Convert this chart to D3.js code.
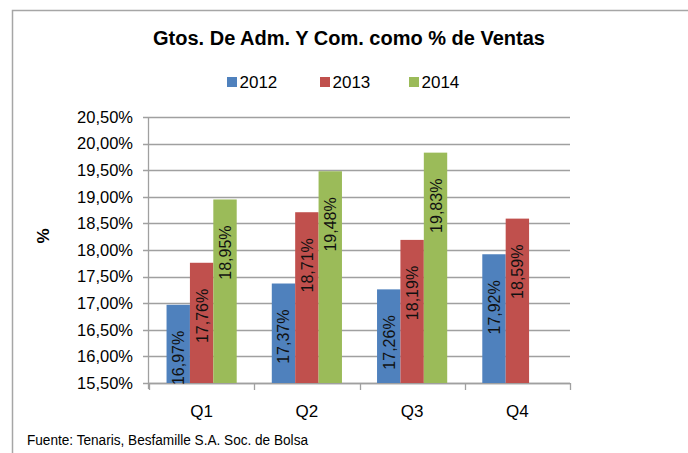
<!DOCTYPE html>
<html><head><meta charset="utf-8">
<script src="https://cdn.jsdelivr.net/npm/d3@7"></script>
<style>
html,body{margin:0;padding:0;background:#fff;}
svg{display:block;}
text{font-family:Arial,"Liberation Sans",sans-serif;}
</style></head>
<body>
<svg id="chart" width="688" height="453"></svg>
<script>
const categories = ["Q1","Q2","Q3","Q4"];
const seriesNames = ["2012","2013","2014"];
const values2012 = [16.97, 17.37, 17.26, 17.92];
const values2013 = [17.76, 18.71, 18.19, 18.59];
const values2014 = [18.95, 19.48, 19.83, null];
const yTicks = [15.5,16,16.5,17,17.5,18,18.5,19,19.5,20,20.5];
const colors = ["#4F81BD","#C0504D","#9BBB59"];
const title = "Gtos. De Adm. Y Com. como % de Ventas";
const yTitle = "%";
const source = "Fuente: Tenaris, Besfamille S.A. Soc. de Bolsa";

const seriesValues = [values2012, values2013, values2014];
const fmt = v => v.toFixed(2).replace(".", ",") + "%";

const svg = d3.select("#chart");
const W = 688, H = 453;
svg.append("rect").attr("x",12.5).attr("y",10.5).attr("width",W).attr("height",H)
  .attr("fill","#fff").attr("stroke","#a6a6a6").attr("stroke-width",1.5);

const x0 = d3.scaleBand().domain(categories).range([149, 570]).paddingInner(0).paddingOuter(0);
const x1 = d3.scaleBand().domain(seriesNames).range([0, x0.bandwidth()]).paddingInner(0).paddingOuter(0.75);
const y = d3.scaleLinear().domain([15.5, 20.5]).range([383, 117]);

// gridlines
svg.append("g").selectAll("line").data(yTicks).join("line")
  .attr("x1",143).attr("x2",570)
  .attr("y1",d=>Math.round(y(d))+0.5).attr("y2",d=>Math.round(y(d))+0.5)
  .attr("stroke","#a0a0a0").attr("stroke-width",1.3);

// y axis
const yAxis = d3.axisLeft(y).tickValues(yTicks).tickFormat(fmt).tickSize(0).tickPadding(10);
const gy = svg.append("g").attr("transform","translate(143,0)").call(yAxis);
gy.select(".domain").remove();
gy.selectAll("text").attr("font-size","16.5px").attr("fill","#000");
svg.append("line").attr("x1",148.5).attr("x2",148.5).attr("y1",117).attr("y2",389)
  .attr("stroke","#a0a0a0").attr("stroke-width",1.3);

// x axis
const xAxis = d3.axisBottom(x0).tickSize(0).tickPadding(22);
const gx = svg.append("g").attr("transform","translate(0,383)").call(xAxis);
gx.select(".domain").remove();
gx.selectAll("text").attr("font-size","17px").attr("fill","#000");
const bounds = categories.map(c => x0(c)).concat([x0.range()[1]]);
svg.append("g").selectAll("line").data(bounds).join("line")
  .attr("x1",d=>Math.round(d)+0.5).attr("x2",d=>Math.round(d)+0.5)
  .attr("y1",383).attr("y2",390).attr("stroke","#a0a0a0").attr("stroke-width",1.3);
svg.append("line").attr("x1",148).attr("x2",570).attr("y1",383.5).attr("y2",383.5)
  .attr("stroke","#a0a0a0").attr("stroke-width",1.3);

// bars
const flat = [];
seriesNames.forEach((s,si) => categories.forEach((c,ci) => {
  const v = seriesValues[si][ci];
  if (v != null) flat.push({s, si, c, v});
}));
svg.append("g").selectAll("rect").data(flat).join("rect")
  .attr("x", d => x0(d.c) + x1(d.s))
  .attr("width", x1.bandwidth())
  .attr("y", d => y(d.v))
  .attr("height", d => y(15.5) - y(d.v))
  .attr("fill", d => colors[d.si]);

// labels (rotated)
svg.append("g").selectAll("text").data(flat).join("text")
  .attr("transform", d => `translate(${x0(d.c)+x1(d.s)+x1.bandwidth()/2+6},${y(d.v)+26}) rotate(-90)`)
  .attr("text-anchor","end")
  .attr("font-size","16px").attr("fill","#111")
  .text(d => fmt(d.v));

// title
svg.append("text").attr("x",349).attr("y",45).attr("text-anchor","middle")
  .attr("font-size","20px").attr("font-weight","bold").attr("fill","#000").text(title);

// legend
const legX = [227, 320, 409];
const lg = svg.append("g").selectAll("g").data(seriesNames).join("g")
  .attr("transform",(d,i)=>`translate(${legX[i]},77)`);
lg.append("rect").attr("width",10).attr("height",10).attr("fill",(d,i)=>colors[i]);
lg.append("text").attr("x",12.5).attr("y",11).attr("font-size","17px").attr("fill","#000").text(d=>d);

// y title
svg.append("text").attr("transform","translate(49,236) rotate(-90)").attr("text-anchor","middle")
  .attr("font-size","17px").attr("font-weight","bold").attr("fill","#000").text(yTitle);

// source
svg.append("text").attr("x",27).attr("y",445)
  .attr("font-family","'Liberation Sans Narrow','Arial Narrow',Arial,sans-serif")
  .attr("font-size","15.5px").attr("fill","#000")
  .attr("textLength",281).attr("lengthAdjust","spacingAndGlyphs")
  .text(source);
</script>
</body></html>
